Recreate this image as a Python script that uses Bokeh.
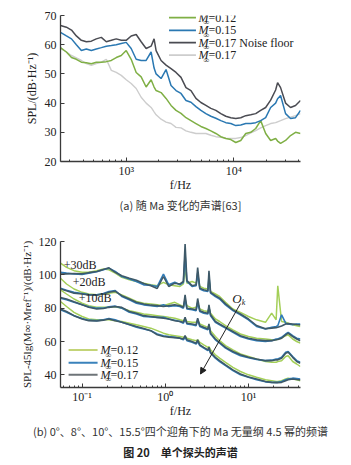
from bokeh.plotting import figure
from bokeh.models import (FixedTicker, CustomJSTickFormatter, Label, Arrow, NormalHead, Title)
from bokeh.layouts import column
from bokeh.embed import file_html
from bokeh.resources import INLINE

SERIF = "Liberation Serif"
CJK = "Noto Sans CJK SC"

# ---------------- (a) data ----------------
f_a = [245, 278, 310, 344, 383, 426, 474, 527, 587, 653, 727, 808, 899, 1000, 1112, 1238,
       1377, 1532, 1704, 1816, 1896, 2109, 2346, 2610, 2904, 3231, 3594, 3999, 4448, 4948,
       5504, 6123, 6812, 7578, 8431, 9380, 10435, 11610, 12915, 14368, 15985, 17783, 19784,
       22013, 24489, 25540, 27224, 30287, 33693, 37485, 41700]
spl_a_012 = [59.0, 57.5, 55.6, 55.0, 54.0, 53.8, 53.5, 54.0, 54.0, 54.2, 54.6, 55.6, 56.3, 58.0,
             55.0, 50.5, 49.0, 45.5, 48.0, 45.5, 44.3, 43.6, 41.6, 39.2, 37.5, 36.5, 35.0, 34.0,
             33.0, 32.0, 31.3, 30.5, 29.6, 28.5, 27.9, 27.5, 26.5, 27.2, 29.6, 30.0, 31.3, 34.0,
             29.6, 27.2, 27.9, 27.0, 26.2, 27.2, 28.9, 30.0, 29.6]
spl_a_015 = [64.2, 63.0, 62.0, 60.0, 58.0, 58.5, 58.0, 58.5, 59.0, 59.5, 59.7, 60.0, 60.4, 60.8,
             58.7, 55.0, 54.6, 54.6, 57.5, 52.0, 50.0, 48.4, 51.5, 46.0, 44.3, 43.3, 40.9, 40.3,
             38.8, 37.5, 36.4, 35.5, 34.8, 34.0, 33.3, 33.0, 32.3, 32.5, 33.0, 33.0, 33.3, 34.0,
             35.0, 38.5, 40.0, 41.5, 42.6, 36.4, 34.7, 35.0, 37.5]
spl_a_017 = [66.6, 66.0, 65.0, 63.0, 61.5, 61.0, 61.2, 62.0, 62.5, 61.0, 61.5, 62.0, 61.5, 61.5,
             63.0, 63.5, 61.0, 58.7, 59.5, 62.0, 58.0, 54.6, 53.0, 51.8, 50.5, 48.8, 45.3, 44.3,
             41.6, 40.2, 39.2, 38.2, 37.5, 36.4, 35.5, 35.0, 34.7, 35.0, 35.7, 36.0, 36.4, 37.5,
             38.5, 41.0, 44.5, 47.0, 45.3, 40.0, 38.5, 39.2, 40.9]
spl_a_noise = [58.7, 57.5, 56.3, 55.5, 54.6, 53.5, 52.9, 53.5, 54.0, 55.0, 51.2, 50.5, 49.5, 48.0,
               46.7, 45.0, 42.0, 40.0, 38.5, 37.0, 36.0, 34.5, 33.5, 33.0, 31.7, 31.5, 30.5, 30.0,
               29.6, 29.6, 29.6, 29.0, 28.5, 28.3, 28.0, 27.9, 27.9, 28.2, 28.9, 29.8, 30.6, 31.5,
               32.3, 33.0, 33.3, 33.6, 34.0, 34.7, 35.2, 35.7, 36.4]
legend_a = ["=0.12", "=0.15", "=0.17 Noise floor", "=0.17"]

# ---------------- (b) data ----------------
f_b = [0.055, 0.065, 0.08, 0.1, 0.12, 0.15, 0.18, 0.21, 0.25, 0.3, 0.37, 0.45, 0.55, 0.67, 0.8,
       0.95, 1.1, 1.3, 1.5, 1.65, 1.73, 1.82, 2.1, 2.35, 2.45, 2.6, 2.9, 3.25, 3.35, 3.5, 4.0,
       4.5, 5.3, 6.5, 8.0, 10, 12.5, 16, 19, 21.5, 22.5, 25, 28, 30, 34, 38, 42]
# +30 dB group
g30_017 = [100.4, 100.6, 100.8, 100.6, 101.3, 102.0, 103.2, 104.2, 101.5, 99.5, 98.0, 96.8, 94.8,
           93.4, 91.8, 99.0, 93.0, 95.0, 94.5, 96.0, 118.5, 96.5, 93.5, 94.0, 104.4, 92.0, 91.0,
           90.5, 102.4, 89.5, 87.5, 86.0, 82.6, 79.0, 76.5, 73.5, 69.6, 67.7, 68.0, 68.3, 68.5,
           69.3, 70.5, 70.7, 70.5, 70.2, 70.0]
g30_015 = [101.5, 101.0, 100.5, 100.2, 101.0, 101.8, 103.0, 104.0, 102.0, 99.0, 97.5, 96.0, 94.0,
           93.8, 93.0, 100.5, 94.0, 95.5, 94.0, 95.5, 112.0, 96.0, 93.0, 93.5, 101.0, 91.5, 90.5,
           90.0, 99.0, 89.0, 87.0, 85.5, 82.0, 78.5, 76.0, 73.0, 69.0, 67.5, 68.5, 69.0, 69.5,
           76.0, 71.0, 70.5, 70.0, 70.5, 70.5]
g30_012 = [107.0, 104.5, 102.5, 101.5, 101.5, 102.5, 103.5, 103.0, 101.0, 98.5, 97.0, 96.0, 95.0,
           94.0, 93.5, 95.5, 94.0, 93.5, 93.0, 94.5, 104.0, 95.0, 96.0, 95.0, 99.0, 93.0, 92.0,
           91.5, 97.0, 90.0, 88.5, 87.0, 83.5, 79.5, 77.5, 75.0, 73.0, 71.5, 77.0, 73.0, 93.4,
           72.0, 71.5, 71.0, 70.0, 69.5, 69.0]
# +20 dB group
g20_017 = [91.5, 90.5, 89.0, 88.5, 88.0, 87.8, 88.5, 89.5, 90.2, 87.5, 85.5, 83.5, 82.5, 81.8,
           81.5, 81.0, 81.5, 82.0, 81.5, 80.5, 88.0, 80.0, 79.5, 79.0, 85.8, 78.5, 77.5, 77.0,
           82.0, 76.0, 72.0, 70.5, 68.5, 66.0, 63.5, 62.0, 61.0, 60.5, 60.5, 61.0, 61.2, 62.0,
           64.0, 65.0, 63.0, 61.5, 60.5]
g20_015 = [92.0, 90.8, 89.5, 88.8, 88.2, 88.0, 88.8, 90.0, 90.5, 87.0, 85.0, 83.0, 82.0, 81.5,
           81.0, 82.0, 81.0, 81.5, 81.0, 80.0, 85.5, 79.5, 79.0, 78.5, 83.5, 78.0, 77.0, 76.5,
           80.5, 75.5, 71.5, 70.0, 68.0, 65.5, 63.0, 61.5, 60.5, 60.0, 60.5, 61.5, 61.5, 62.5,
           64.5, 65.5, 63.5, 62.0, 61.5]
g20_012 = [98.0, 94.5, 91.5, 89.5, 88.5, 88.0, 88.5, 89.0, 89.5, 88.0, 86.0, 84.0, 83.0, 82.5,
           82.0, 81.5, 82.5, 83.5, 82.0, 81.0, 84.0, 81.5, 80.0, 80.5, 83.0, 79.5, 78.5, 78.0,
           80.0, 77.0, 73.5, 72.0, 69.5, 67.0, 64.5, 63.0, 62.0, 61.5, 61.0, 61.0, 61.5, 62.0,
           63.5, 64.0, 61.5, 60.0, 59.0]
# +10 dB group
g10_017 = [86.4, 85.5, 83.8, 82.0, 80.5, 79.5, 79.8, 80.5, 81.0, 80.5, 78.0, 77.0, 75.5, 75.0,
           74.5, 74.0, 73.5, 72.5, 72.0, 71.5, 74.5, 71.0, 70.5, 70.0, 74.0, 69.5, 68.5, 67.5,
           70.5, 65.0, 61.5, 59.4, 56.5, 54.0, 52.0, 50.6, 49.5, 48.5, 48.5, 49.0, 49.0, 50.0,
           53.0, 53.6, 50.5, 48.0, 47.0]
g10_015 = [86.0, 85.0, 83.5, 82.0, 80.8, 80.0, 80.0, 80.8, 81.2, 80.0, 77.5, 76.5, 75.0, 74.8,
           74.5, 74.5, 73.5, 72.8, 72.0, 71.0, 73.5, 70.5, 70.0, 69.5, 73.0, 69.0, 68.0, 67.0,
           69.5, 64.5, 61.0, 59.0, 56.0, 53.5, 51.5, 50.2, 49.2, 48.5, 48.8, 49.5, 49.5, 50.5,
           53.5, 54.0, 51.0, 48.5, 47.5]
g10_012 = [91.0, 88.5, 85.5, 83.0, 81.5, 80.5, 80.5, 80.5, 80.8, 80.0, 78.5, 77.5, 76.5, 76.0,
           75.5, 75.0, 74.5, 74.0, 73.0, 72.5, 73.5, 72.0, 71.5, 71.5, 72.5, 70.5, 69.5, 68.5,
           69.5, 66.5, 63.0, 60.5, 57.5, 55.0, 52.5, 51.0, 49.5, 48.0, 47.5, 47.5, 48.0, 48.5,
           51.0, 51.5, 48.0, 46.5, 45.0]
# base group
g0_017 = [79.5, 78.0, 75.5, 73.5, 72.5, 72.3, 72.8, 73.5, 72.5, 71.5, 70.2, 69.0, 67.8, 66.5,
          64.0, 63.0, 62.6, 62.3, 62.0, 61.5, 63.5, 61.0, 60.0, 59.0, 61.0, 58.0, 56.5, 55.0,
          56.5, 53.5, 50.5, 48.5, 46.0, 43.0, 40.5, 38.7, 37.5, 36.0, 35.5, 35.3, 35.3, 35.5,
          36.5, 37.0, 37.5, 37.2, 37.0]
g0_015 = [79.0, 77.5, 75.5, 73.8, 72.8, 72.5, 73.0, 73.8, 73.0, 71.5, 70.0, 68.5, 67.5, 66.5,
          64.5, 63.5, 63.0, 62.5, 62.0, 61.0, 62.5, 60.5, 59.5, 58.5, 60.0, 57.5, 56.0, 54.5,
          55.5, 53.0, 50.0, 48.0, 45.5, 42.5, 40.0, 38.5, 37.0, 35.8, 35.5, 35.5, 35.5, 36.0,
          37.0, 37.5, 38.0, 37.8, 37.5]
g0_012 = [84.0, 81.0, 77.5, 75.0, 73.5, 73.0, 73.0, 73.0, 72.5, 72.0, 71.0, 70.0, 69.0, 68.0,
          66.5, 65.0, 64.0, 63.5, 63.0, 62.5, 63.0, 62.0, 61.0, 60.5, 61.0, 59.5, 58.0, 56.5,
          57.0, 55.0, 52.0, 50.0, 47.5, 44.5, 42.0, 40.0, 38.5, 37.0, 36.5, 36.0, 36.0, 36.5,
          37.5, 38.0, 37.5, 37.0, 36.5]
legend_b = ["=0.12", "=0.15", "=0.17"]
offset_labels = ["+30dB", "+20dB", "+10dB"]

SUP_JS = """
const sup = {"-":"\u207b","0":"\u2070","1":"\u00b9","2":"\u00b2","3":"\u00b3","4":"\u2074",
             "5":"\u2075","6":"\u2076","7":"\u2077","8":"\u2078","9":"\u2079"};
const e = Math.round(Math.log10(tick));
return "10" + String(e).split("").map(c => sup[c]).join("");
"""

AX_COL = "#3a3a3a"
TXT = "#222222"


def style(p):
    p.outline_line_color = None
    p.grid.visible = False
    for ax in p.axis:
        ax.axis_line_color = AX_COL
        ax.axis_line_width = 1.3
        ax.major_tick_in = 4
        ax.major_tick_out = 0
        ax.minor_tick_in = 2
        ax.minor_tick_out = 0
        ax.major_tick_line_color = AX_COL
        ax.minor_tick_line_color = AX_COL
        ax.major_label_text_font = SERIF
        ax.major_label_text_font_size = "12px"
        ax.major_label_text_color = TXT
        ax.axis_label_text_font = SERIF
        ax.axis_label_text_font_size = "12px"
        ax.axis_label_text_font_style = "normal"
        ax.axis_label_text_color = TXT
    p.xaxis.major_label_standoff = 2
    p.xaxis.axis_label_standoff = -3
    p.yaxis.major_label_standoff = 4
    p.yaxis.axis_label_standoff = 3
    p.yaxis.minor_tick_line_color = None


def minor_log(lo_exp, hi_exp):
    out = []
    for e in range(lo_exp, hi_exp + 1):
        for m in range(2, 10):
            out.append(m * 10.0 ** e)
    return out


def legend_entry(p, x0, x1, xt, y, color, lw, text):
    """manual legend entry: line from x0 to x1, italic M, subscript infinity, text"""
    p.add_layout(Arrow(end=None, x_start=x0, y_start=y, x_end=x1, y_end=y,
                       line_color=color, line_width=lw))
    p.add_layout(Label(x=xt, y=y, text="M", text_font=SERIF, text_font_size="12px",
                       text_font_style="italic", text_color=TXT,
                       text_baseline="middle", text_align="left"))
    p.add_layout(Label(x=xt, y=y, x_offset=5, y_offset=-5, text="\u221e",
                       text_font=SERIF, text_font_size="8px", text_font_style="italic",
                       text_color=TXT, text_baseline="middle", text_align="left"))
    p.add_layout(Label(x=xt, y=y, x_offset=10, text=text, text_font=SERIF,
                       text_font_size="12px", text_color=TXT,
                       text_baseline="middle", text_align="left"))


# ---------------- figure (a) ----------------
pa = figure(width=351, height=215, x_axis_type="log", x_range=(245, 41700), y_range=(20, 70),
            output_backend="svg", toolbar_location=None, title=None,
            min_border_left=59, min_border_right=51, min_border_top=15, min_border_bottom=54)
style(pa)
pa.xaxis.ticker = FixedTicker(ticks=[1000, 10000],
                              minor_ticks=[m for m in minor_log(2, 4) if 245 < m < 41700])
pa.xaxis.formatter = CustomJSTickFormatter(code=SUP_JS)
pa.yaxis.ticker = FixedTicker(ticks=[20, 30, 40, 50, 60, 70])
pa.xaxis.axis_label = "f/Hz"
pa.yaxis.axis_label = "SPL/(dB\u00b7Hz\u207b\u00b9)"

ca = {"g": "#7faf45", "b": "#2a78b2", "d": "#4a4b52", "n": "#cdcdcd"}
pa.line(f_a, spl_a_noise, line_color=ca["n"], line_width=1.4)
pa.line(f_a, spl_a_012, line_color=ca["g"], line_width=1.5)
pa.line(f_a, spl_a_015, line_color=ca["b"], line_width=1.5)
pa.line(f_a, spl_a_017, line_color=ca["d"], line_width=1.5)

leg_y_a = [69.3, 64.9, 60.7, 56.4]
for col, txt, yy in zip([ca["g"], ca["b"], ca["d"], ca["n"]], legend_a, leg_y_a):
    legend_entry(pa, 2500, 4450, 4700, yy, col, 1.8, txt)

pa.add_layout(Title(text="(a) \u968f Ma \u53d8\u5316\u7684\u58f0\u8c31[63]", align="center",
                    text_font=CJK, text_font_size="11px", text_font_style="normal",
                    text_color="#333", standoff=0), "below")

# ---------------- figure (b) ----------------
pb = figure(width=351, height=250, x_axis_type="log", x_range=(0.055, 42.2), y_range=(32.4, 120),
            output_backend="svg", toolbar_location=None, title=None,
            min_border_left=60, min_border_right=51, min_border_top=26, min_border_bottom=78)
style(pb)
pb.xaxis.ticker = FixedTicker(ticks=[0.1, 1, 10],
                              minor_ticks=[m for m in minor_log(-2, 1) if 0.055 < m < 42.2])
pb.xaxis.formatter = CustomJSTickFormatter(code=SUP_JS)
pb.yaxis.ticker = FixedTicker(ticks=[40, 60, 80, 100, 120])
pb.xaxis.axis_label = "f/Hz"
pb.yaxis.axis_label = "SPL-45lg(M\u221e\u00b7Mref\u207b\u00b9)/(dB\u00b7Hz\u207b\u00b9)"
pb.yaxis.axis_label_text_font_size = "11px"

cb = {"g": "#a4cf58", "b": "#2f7bb8", "d": "#3e5968"}
groups = [(g30_012, g30_015, g30_017), (g20_012, g20_015, g20_017),
          (g10_012, g10_015, g10_017), (g0_012, g0_015, g0_017)]
for (s12, s15, s17) in groups:
    pb.line(f_b, s12, line_color=cb["g"], line_width=1.5)
    pb.line(f_b, s15, line_color=cb["b"], line_width=1.6)
    pb.line(f_b, s17, line_color=cb["d"], line_width=1.6)

leg_cols_b = ["#c3d477", "#3a82bb", "#6e7478"]
leg_y_b = [54.9, 47.3, 40.0]
for col, txt, yy in zip(leg_cols_b, legend_b, leg_y_b):
    legend_entry(pb, 0.0688, 0.1535, 0.166, yy, col, 2.0, txt)

for txt, x, y in zip(offset_labels, [0.060, 0.077, 0.091], [106.0, 95.8, 86.0]):
    pb.add_layout(Label(x=x, y=y, text=txt, text_font=SERIF, text_font_size="12px",
                        text_color=TXT, text_baseline="middle", text_align="left"))

pb.add_layout(Arrow(end=NormalHead(size=6, fill_color=TXT, line_color=TXT),
                    x_start=8.0, y_start=82.7, x_end=2.65, y_end=40.5,
                    line_color=TXT, line_width=1))
pb.add_layout(Label(x=6.4, y=86.0, text="O", text_font=SERIF, text_font_size="13px",
                    text_font_style="italic", text_color=TXT, text_baseline="middle"))
pb.add_layout(Label(x=8.3, y=83.5, text="k", text_font=SERIF, text_font_size="8px",
                    text_font_style="italic", text_color=TXT, text_baseline="middle"))

pb.add_layout(Title(text="(b) 0\u00b0\u30018\u00b0\u300110\u00b0\u300115.5\u00b0\u56db\u4e2a\u8fce\u89d2\u4e0b\u7684 Ma \u65e0\u91cf\u7eb2 4.5 \u5e42\u7684\u9891\u8c31",
                    align="center", text_font=CJK, text_font_size="11px", text_font_style="normal",
                    text_color="#333", standoff=1), "below")
pb.add_layout(Title(text="\u56fe 20\u3000\u5355\u4e2a\u63a2\u5934\u7684\u58f0\u8c31", align="center",
                    text_font=CJK, text_font_size="11px", text_font_style="bold",
                    text_color=TXT, standoff=4), "below")

layout = column(pa, pb, spacing=0)
open("out.html", "w").write(file_html(layout, INLINE))
